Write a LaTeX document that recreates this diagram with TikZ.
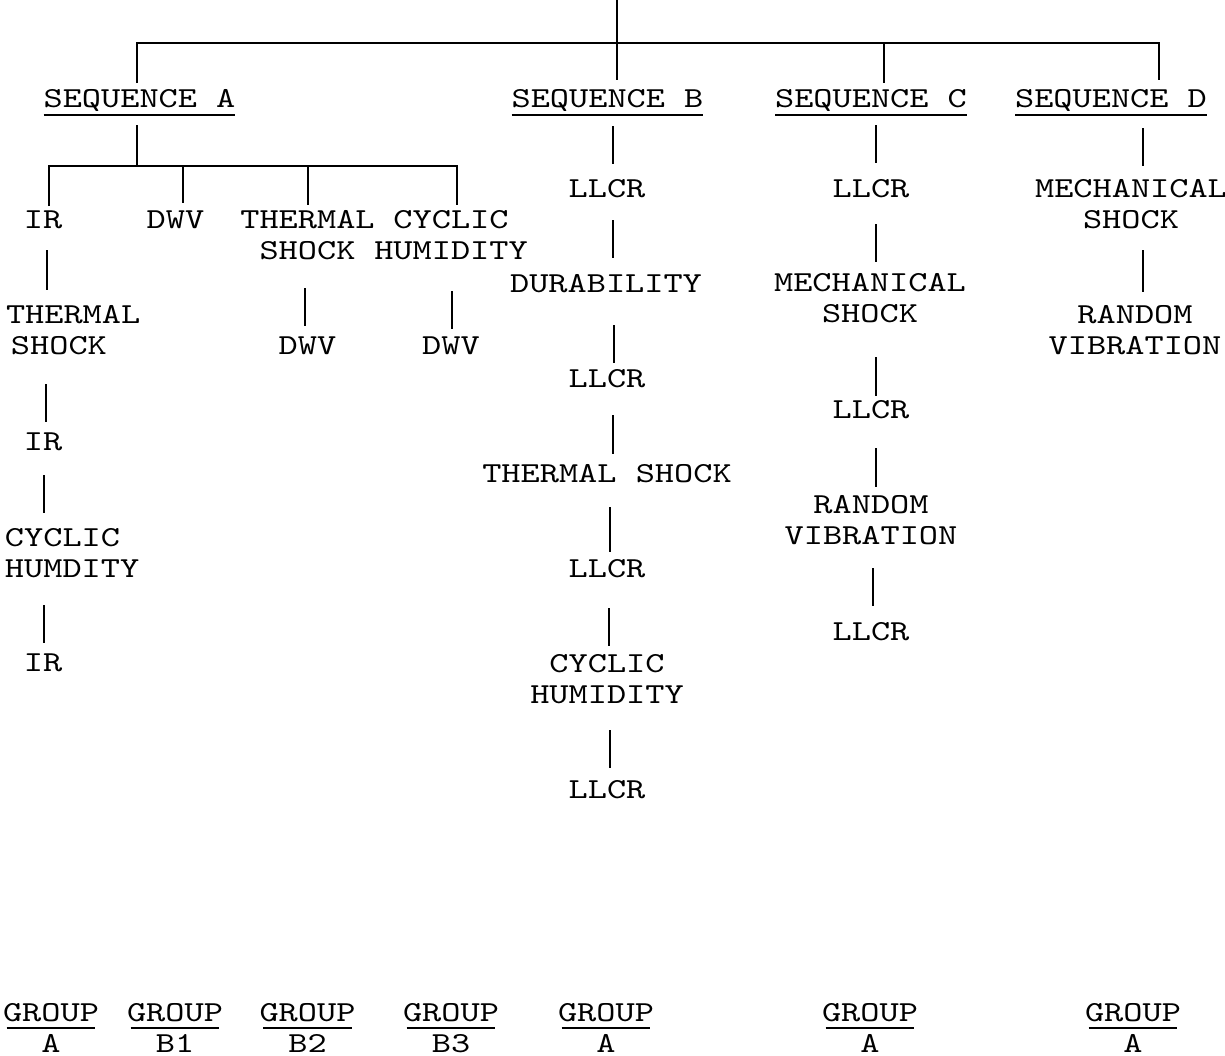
\documentclass[tikz,border=0pt]{standalone}
\usepackage{fontspec}
\newfontfamily\cour{lmmono10-regular}[Extension=.otf,FakeStretch=1.26]
\usetikzlibrary{calc}
\begin{document}
\begin{tikzpicture}[x=1pt,y=-1pt,
  lbl/.style={font=\cour\fontsize{29}{31.5}\selectfont, inner sep=0pt, outer sep=0pt, anchor=base, align=center},
  lbll/.style={font=\cour\fontsize{29}{31.5}\selectfont, inner sep=0pt, outer sep=0pt, anchor=base west, align=left},
  conn/.style={line width=2pt},
  uline/.style={line width=2.6pt}]
\useasboundingbox (0,0) rectangle (1225,1055);

% sequence headers
\node[lbl] (seqA) at (139.5,107) {SEQUENCE A};
\node[lbl] (seqB) at (607.5,107) {SEQUENCE B};
\node[lbl] (seqC) at (871,107) {SEQUENCE C};
\node[lbl] (seqD) at (1111,107) {SEQUENCE D};
\foreach \n in {seqA,seqB,seqC,seqD}
  \draw[uline] ($(\n.base west)+(0,8)$) -- ($(\n.base east)+(0,8)$);

\coordinate (top) at (617,0);
\draw[conn] (top) -- ($(seqB.base)+(9.5,-27)$);
\draw[conn] ($(seqA.base)+(-2.5,-24)$) |- ($(seqD.base)+(48,-64)$) -- ($(seqD.base)+(48,-27)$);
\draw[conn] ($(seqC.base)+(13,-64)$) -- ($(seqC.base)+(13,-24)$);

% sequence A (two-line nodes are placed by the baseline of their last line)
\node[lbl] (irA1) at (43,228) {IR};
\node[lbl] (dwvA1) at (175.5,228) {DWV};
\node[lbl] (tsA) at (307.5,259.5) {THERMAL\\SHOCK};
\node[lbl] (chA) at (451,259.5) {CYCLIC\\HUMIDITY};
\coordinate (hubA) at ($(seqA.base)+(-2.5,59)$);
\draw[conn] ($(seqA.base)+(-2.5,18)$) -- (hubA);
\draw[conn] ($(irA1.base)+(6,-22)$) |- ($(chA.base)+(6,-93.5)$) -- ($(chA.base)+(6,-54.5)$);
\draw[conn] ($(dwvA1.base)+(7.5,-62)$) -- ($(dwvA1.base)+(7.5,-25)$);
\draw[conn] ($(tsA.base)+(0,-93.5)$) -- ($(tsA.base)+(0,-54.5)$);

\node[lbll] (tsL) at (6,354.5) {THERMAL\\\hspace*{5pt}SHOCK};
\node[lbl] (irA2) at (43,450) {IR};
\node[lbll] (chL) at (5,577.5) {CYCLIC\\HUMDITY};
\node[lbl] (irA3) at (43,671) {IR};
\draw[conn] ($(irA1.base)+(4,22)$) -- ($(tsL.base west)+(41,-64.5)$);
\draw[conn] ($(tsL.base west)+(40,29.5)$) -- ($(irA2.base)+(3,-28)$);
\draw[conn] ($(irA2.base)+(1,25)$) -- ($(chL.base west)+(39,-64.5)$);
\draw[conn] ($(chL.base west)+(39,27.5)$) -- ($(irA3.base)+(1,-28)$);

\node[lbl] (dwvA2) at (307.5,354) {DWV};
\node[lbl] (dwvA3) at (451,354) {DWV};
\draw[conn] ($(tsA.base)+(-2.5,28.5)$) -- ($(dwvA2.base)+(-2.5,-28)$);
\draw[conn] ($(chA.base)+(1,31.5)$) -- ($(dwvA3.base)+(1,-25)$);

% sequence B
\node[lbl] (llcrB1) at (607,197) {LLCR};
\node[lbl] (durB) at (606,292) {DURABILITY};
\node[lbl] (llcrB2) at (607,387) {LLCR};
\node[lbl] (tsB) at (607,482) {THERMAL SHOCK};
\node[lbl] (llcrB3) at (607,577) {LLCR};
\node[lbl] (chB) at (607,703.5) {CYCLIC\\HUMIDITY};
\node[lbl] (llcrB4) at (607,798) {LLCR};
\draw[conn] ($(seqB.base)+(5.5,19)$) -- ($(llcrB1.base)+(6,-33)$);
\draw[conn] ($(llcrB1.base)+(6,23)$) -- ($(durB.base)+(7,-34)$);
\draw[conn] ($(durB.base)+(8,33)$) -- ($(llcrB2.base)+(7,-24)$);
\draw[conn] ($(llcrB2.base)+(6,28)$) -- ($(tsB.base)+(6,-28)$);
\draw[conn] ($(tsB.base)+(3,25)$) -- ($(llcrB3.base)+(3,-25)$);
\draw[conn] ($(llcrB3.base)+(2,31)$) -- ($(chB.base)+(2,-57.5)$);
\draw[conn] ($(chB.base)+(3,26.5)$) -- ($(llcrB4.base)+(3,-30)$);

% sequence C
\node[lbl] (llcrC1) at (871,197) {LLCR};
\node[lbl] (mechC) at (870,322.5) {MECHANICAL\\SHOCK};
\node[lbl] (llcrC2) at (871,418) {LLCR};
\node[lbl] (rvC) at (871,544.5) {RANDOM\\VIBRATION};
\node[lbl] (llcrC3) at (871,640) {LLCR};
\draw[conn] ($(seqC.base)+(5,18)$) -- ($(llcrC1.base)+(5,-34)$);
\draw[conn] ($(llcrC1.base)+(5,27)$) -- ($(mechC.base)+(6,-60.5)$);
\draw[conn] ($(mechC.base)+(6,34.5)$) -- ($(llcrC2.base)+(5,-22)$);
\draw[conn] ($(llcrC2.base)+(5,30)$) -- ($(rvC.base)+(5,-57.5)$);
\draw[conn] ($(rvC.base)+(2,23.5)$) -- ($(llcrC3.base)+(2,-34)$);

% sequence D
\node[lbl] (mechD) at (1131,228.5) {MECHANICAL\\SHOCK};
\node[lbl] (rvD) at (1135,354.5) {RANDOM\\VIBRATION};
\draw[conn] ($(seqD.base)+(32,21)$) -- ($(mechD.base)+(12,-62.5)$);
\draw[conn] ($(mechD.base)+(12,21.5)$) -- ($(rvD.base)+(8,-62.5)$);

% groups
\foreach \gx/\gl/\gn in {51/A/g1, 175/B1/g2, 307.5/B2/g3, 451/B3/g4, 606/A/g5, 870/A/g6, 1133/A/g7} {
  \node[lbl] (\gn) at (\gx,1021) {GROUP};
  \node[lbl] (\gn l) at (\gx,1052) {\gl};
  \draw[uline] ($(\gn.base west)+(3.5,7)$) -- ($(\gn.base east)+(-3.5,7)$);
}
\end{tikzpicture}
\end{document}
